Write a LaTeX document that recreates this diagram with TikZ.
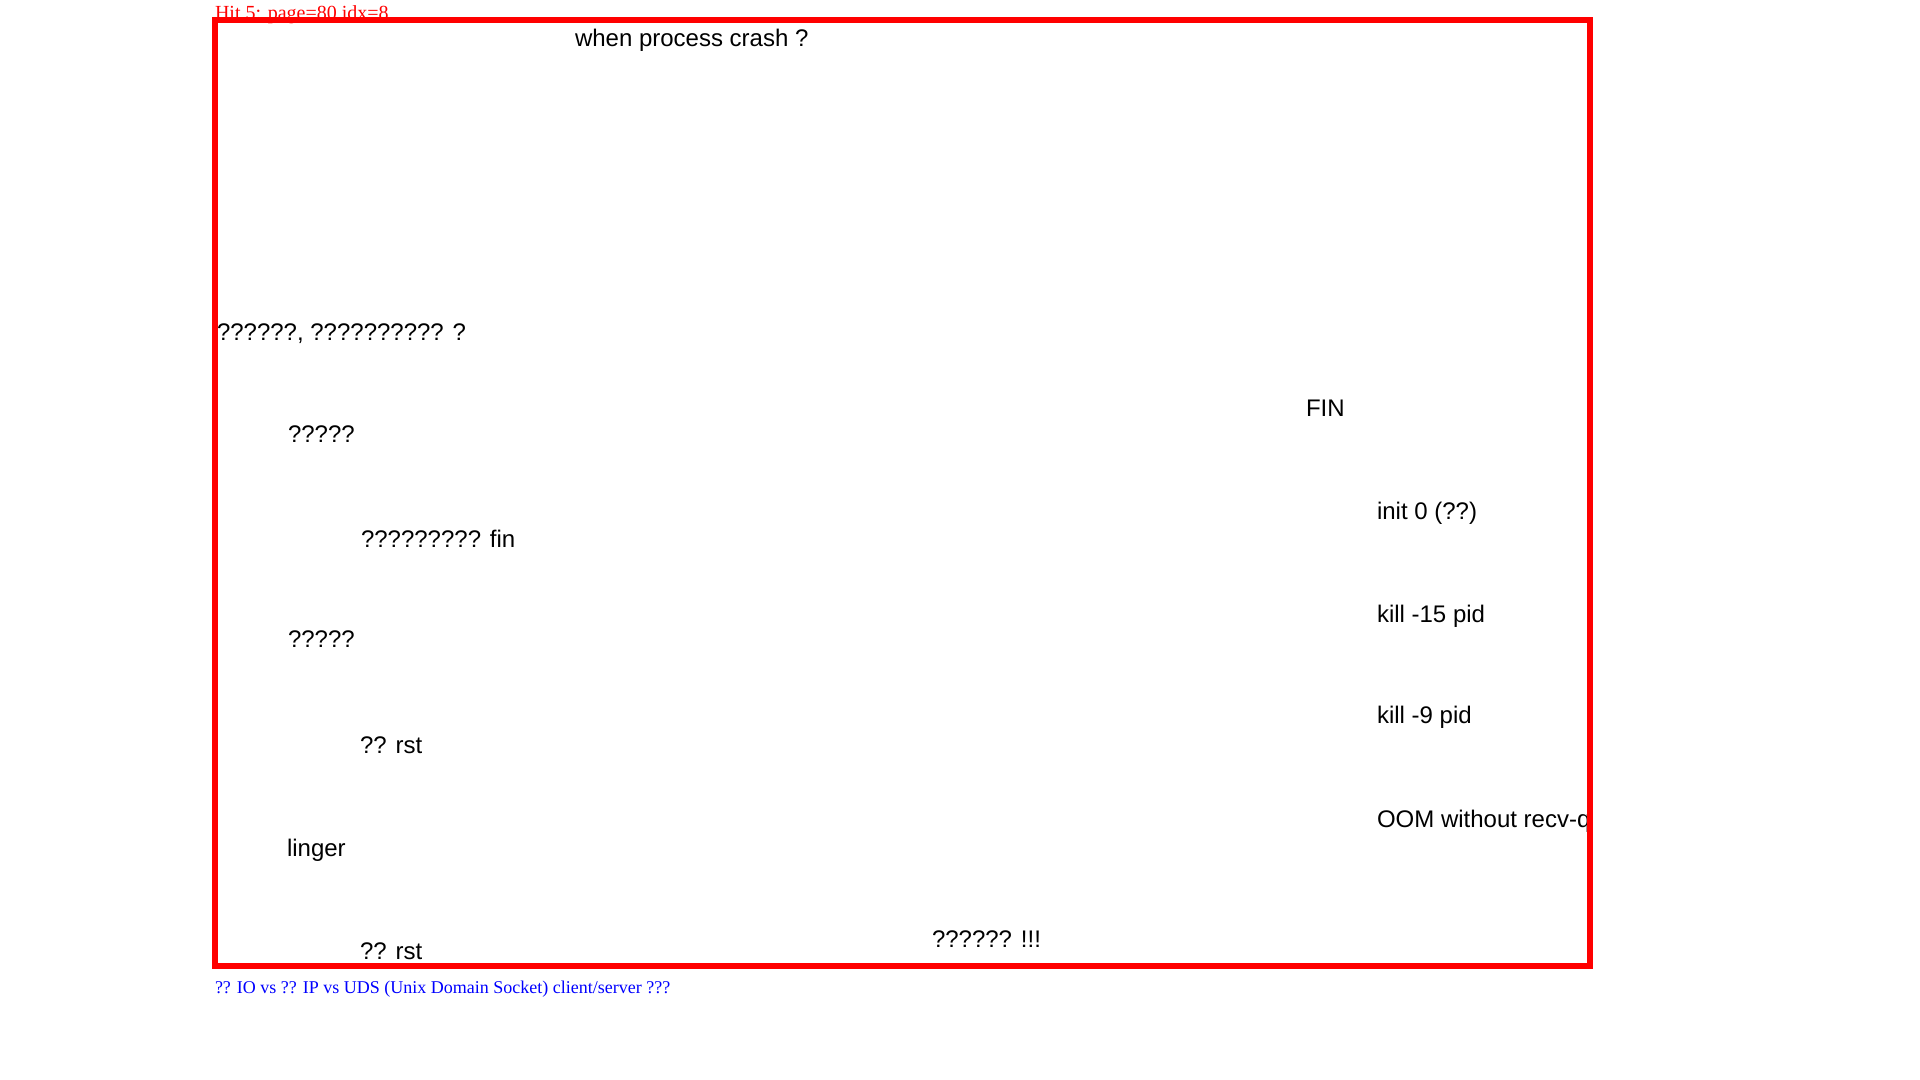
\documentclass[tikz,border=0pt]{standalone}
\usepackage{fontspec}
\setmainfont{Liberation Sans}
\newfontfamily\serifhit{Liberation Serif}
\begin{document}
\begin{tikzpicture}[x=0.5pt,y=-0.5pt,
  lbl/.style={inner sep=0pt,outer sep=0pt,anchor=base west,font=\fontsize{12}{14}\selectfont,text=black},
  note/.style={inner sep=0pt,outer sep=0pt,anchor=base west,font=\serifhit\fontsize{10}{12}\selectfont},
  capnote/.style={note,font=\serifhit\fontsize{9}{11}\selectfont},
  frame/.style={draw=red,line width=3pt}]
\useasboundingbox (0,0) rectangle (1920,1080);
\fill[white] (0,0) rectangle (1920,1080);
\node[note,text=red] (hit) at (215,20) {Hit 5: page=80 idx=8};
\coordinate (fa) at (214.5,20);
\coordinate (fb) at (1589.5,966);
\begin{scope}
\clip (fa) rectangle (fb);
\node[lbl] (title) at (575,46.5) {when process crash ?};
\node[lbl] (q1) at (217,341) {??????, ?????????? ?};
\node[lbl] (q2) at (288,442) {?????};
\node[lbl] (q3) at (361,547) {????????? fin};
\node[lbl] (q4) at (288,647) {?????};
\node[lbl] (q5) at (360,753) {?? rst};
\node[lbl] (q6) at (287,856) {linger};
\node[lbl] (q7) at (360,959) {?? rst};
\node[lbl] (q8) at (932,947) {?????? !!!};
\node[lbl] (fin) at (1306,416) {FIN};
\node[lbl] (r1) at (1377,519) {init 0 (??)};
\node[lbl] (r2) at (1377,622) {kill -15 pid};
\node[lbl] (r3) at (1377,723) {kill -9 pid};
\node[lbl] (r4) at (1377,827) {OOM without recv-q};
\end{scope}
\draw[frame] (fa) rectangle (fb);
\node[capnote,text=blue] (cap) at (215,993) {?? IO vs ?? IP vs UDS (Unix Domain Socket) client/server ???};
\end{tikzpicture}
\end{document}
